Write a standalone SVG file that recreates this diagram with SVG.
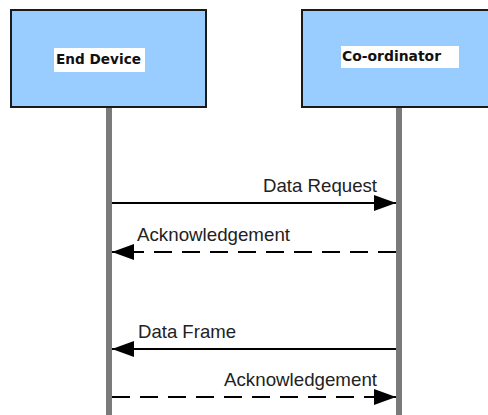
<svg xmlns="http://www.w3.org/2000/svg" width="488" height="415" viewBox="0 0 488 415">
<style>
.box{fill:#99ccff;stroke:#1a1a1a;stroke-width:2}
.lab{fill:#fff}
.nt{font-family:"DejaVu Sans",Verdana,sans-serif;font-weight:bold;font-size:14px;fill:#111}
.life{stroke:#7a7a7a;stroke-width:6}
.msg{stroke:#000;stroke-width:2;fill:none}
.dash{stroke-dasharray:18 10}
.mt{font-family:"Liberation Sans",Arial,sans-serif;font-size:18.5px;fill:#222}
</style>
<defs>
<marker id="ah" markerWidth="22" markerHeight="16" refX="22" refY="8" orient="auto" markerUnits="userSpaceOnUse">
<path d="M0,0 L22,8 L0,16 Z" fill="#000"/>
</marker>
</defs>
<g id="lifelines">
<line class="life" x1="109" y1="107" x2="109" y2="415"/>
<line class="life" x1="399" y1="107" x2="399" y2="415"/>
</g>
<g id="end-device">
<rect class="box" x="11" y="10" width="195" height="97"/>
<rect class="lab" x="54" y="48" width="91" height="24"/>
<text class="nt" x="56" y="64" textLength="85" lengthAdjust="spacingAndGlyphs">End Device</text>
</g>
<g id="coordinator">
<rect class="box" x="302" y="10" width="195" height="97"/>
<rect class="lab" x="341" y="46" width="118" height="22"/>
<text class="nt" x="342" y="61" textLength="99" lengthAdjust="spacingAndGlyphs">Co-ordinator</text>
</g>
<g id="connectors">
<line class="msg" x1="112" y1="203" x2="396" y2="203" marker-end="url(#ah)"/>
<text class="mt" x="263" y="192" textLength="114" lengthAdjust="spacingAndGlyphs">Data Request</text>
<line class="msg dash" x1="396" y1="252" x2="112" y2="252" marker-end="url(#ah)"/>
<text class="mt" x="137" y="241" textLength="153" lengthAdjust="spacingAndGlyphs">Acknowledgement</text>
<line class="msg" x1="396" y1="349" x2="112" y2="349" marker-end="url(#ah)"/>
<text class="mt" x="138" y="338" textLength="98" lengthAdjust="spacingAndGlyphs">Data Frame</text>
<line class="msg dash" x1="112" y1="397" x2="396" y2="397" marker-end="url(#ah)"/>
<text class="mt" x="224" y="386" textLength="153" lengthAdjust="spacingAndGlyphs">Acknowledgement</text>
</g>
</svg>
